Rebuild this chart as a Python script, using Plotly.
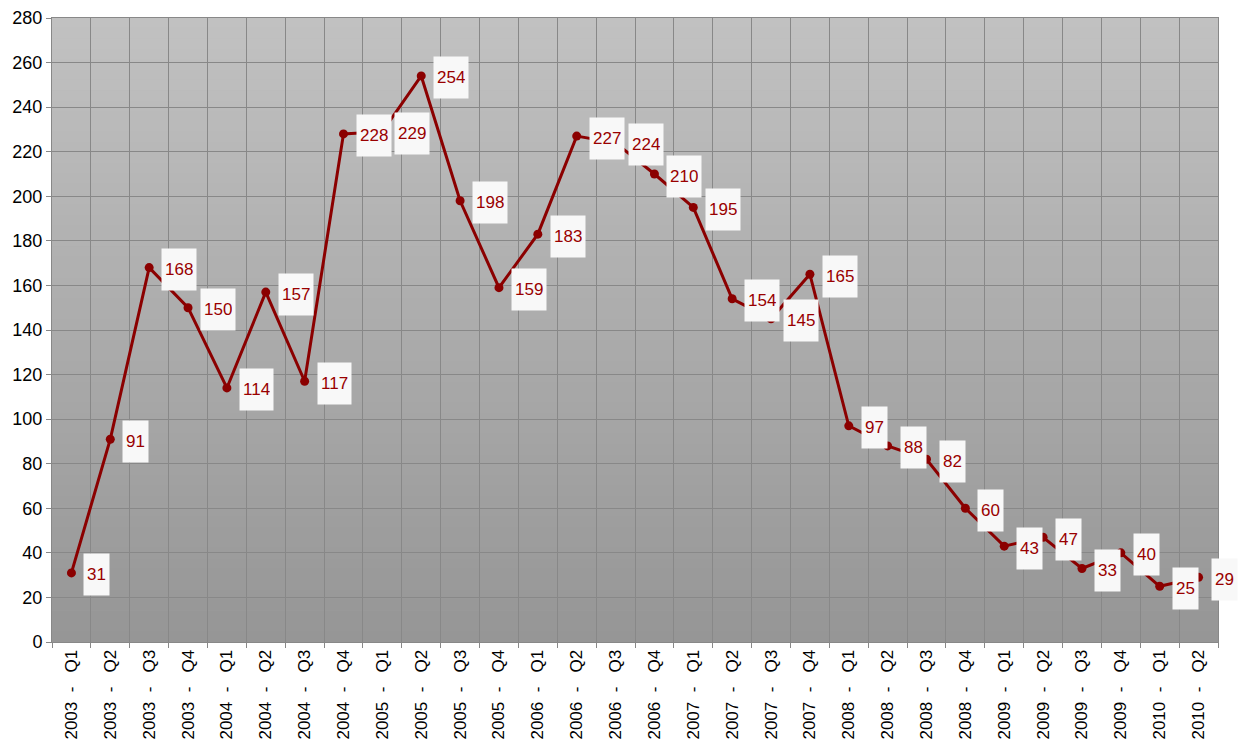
import plotly.graph_objects as go

years = [2003]*4 + [2004]*4 + [2005]*4 + [2006]*4 + [2007]*4 + [2008]*4 + [2009]*4 + [2010]*2
quarters = (["Q1", "Q2", "Q3", "Q4"] * 8)[:30]
categories = [f"{y} \u00a0- \u00a0\u00a0{q}" for y, q in zip(years, quarters)]
values = [31, 91, 168, 150, 114, 157, 117, 228, 229, 254, 198, 159, 183, 227, 224,
          210, 195, 154, 145, 165, 97, 88, 82, 60, 43, 47, 33, 40, 25, 29]
y_ticks = list(range(0, 281, 20))

fig = go.Figure()
fig.add_trace(go.Scatter(
    x=categories, y=values, mode="lines+markers",
    line=dict(color="#8b0000", width=3),
    marker=dict(color="#8b0000", size=9),
    cliponaxis=False,
    hoverinfo="skip",
))

annotations = []
for c, v in zip(categories, values):
    annotations.append(dict(
        x=c, y=v, xref="x", yref="y", text=str(v), showarrow=False,
        xanchor="left", yanchor="middle", xshift=12, yshift=-2,
        font=dict(family="Liberation Sans, Arial", size=17, color="#990000"),
        bgcolor="#f8f8f8", borderpad=3, height=35,
    ))

# vertical gradient background (light top -> darker bottom)
shapes = []
n = 60
top = (193, 193, 193)
bot = (150, 150, 150)
for i in range(n):
    t = i / (n - 1)
    col = tuple(round(top[k] + (bot[k] - top[k]) * t) for k in range(3))
    shapes.append(dict(
        type="rect", xref="x domain", yref="y domain",
        x0=0, x1=1, y0=1 - (i + 1) / n, y1=1 - i / n + 0.001,
        fillcolor=f"rgb{col}", line=dict(width=0), layer="below",
    ))

fig.update_layout(
    width=1244, height=744,
    margin=dict(l=52, r=26, t=18, b=102),
    paper_bgcolor="white", plot_bgcolor="#b0b0b0",
    showlegend=False,
    annotations=annotations, shapes=shapes,
    font=dict(family="Liberation Sans, Arial", size=17, color="black"),
)
fig.update_xaxes(
    type="category", tickangle=-90, tickson="boundaries", automargin=False,
    showgrid=True, gridcolor="#888888", gridwidth=1,
    ticks="outside", ticklen=5, tickcolor="#888888",
    showline=True, linecolor="#888888", linewidth=1, mirror=True,
    tickfont=dict(size=17), range=[-0.5, len(categories) - 0.5],
)
fig.update_yaxes(
    range=[0, 280], tickvals=y_ticks, automargin=False,
    showgrid=True, gridcolor="#888888", gridwidth=1,
    ticks="outside", ticklen=5, tickcolor="#888888",
    showline=True, linecolor="#888888", linewidth=1, mirror=True,
    zeroline=False, tickfont=dict(size=18),
)

fig.write_html(
    "out.html",
    config={"displayModeBar": False},
    post_script="document.body.style.margin='0';document.body.style.overflow='hidden';",
)
